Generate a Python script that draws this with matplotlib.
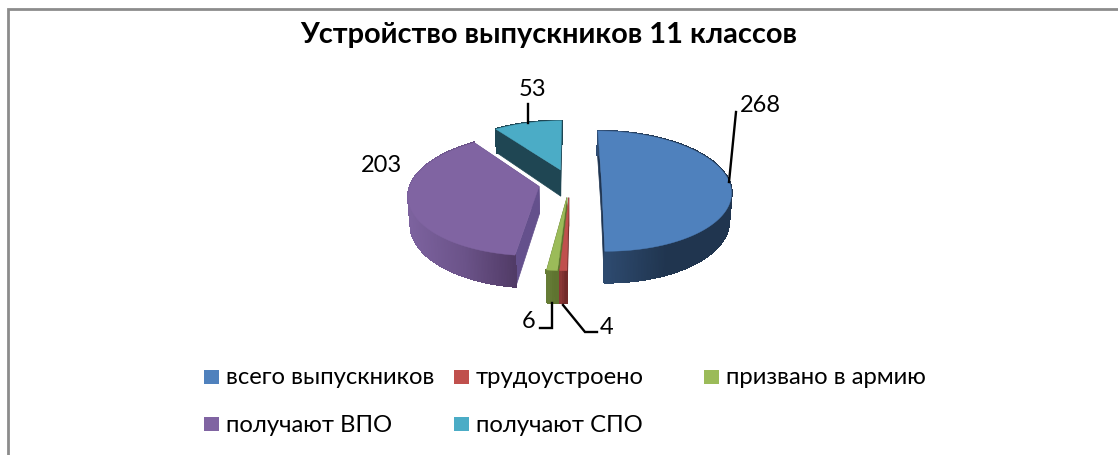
import numpy as np
import matplotlib
matplotlib.use("Agg")
from matplotlib import pyplot as plt
from matplotlib.colors import LinearSegmentedColormap
from matplotlib.patches import Rectangle

plt.rcParams['font.family'] = ['Lato', 'Open Sans', 'DejaVu Sans']

title = "Устройство выпускников 11 классов"
categories = ["всего выпускников", "трудоустроено", "призвано в армию", "получают ВПО", "получают СПО"]
values = [268, 4, 6, 203, 53]
top_colors = ["#4F81BD", "#C0504D", "#9BBB59", "#8064A2", "#4BACC6"]
face_colors = ["#1F3552", "#722B2A", "#5F7430", "#64508C", "#1F4653"]
wall_stops = [["#2F4C72", "#20354F", "#20354F"],
              ["#8A3735", "#722B2A", "#722B2A"],
              ["#667C36", "#5F7430", "#5F7430"],
              ["#7C629E", "#6B5389", "#503A65"],
              ["#1F4653", "#1F4653", "#1F4653"]]

# pie geometry, in picture pixels
cx, cy = 570, 183
rx, ry = 128, 59
persp = 0.134
explode_u, explode_v = 0.2475, 0.24
depth = 27
floor_scale = 0.985

def project(u, v):
    s = 1 / (1 - persp * v)
    return cx + rx * u * s, cy + ry * v * s, depth * s

def floor_x(x):
    return cx + (x - cx) * floor_scale

fig = plt.figure(figsize=(11.18, 4.55), dpi=100)
ax = fig.add_axes([0, 0, 1, 1])
ax.set_xlim(0, 1118)
ax.set_ylim(455, 0)
ax.axis('off')

# chart border
ax.plot([7.5, 7.5, 1118], [455, 8.5, 8.5], color="#8C8C8C", lw=2, solid_joinstyle='miter', solid_capstyle='butt')

total = sum(values)
edges = np.concatenate([[0], np.cumsum(values)]) / total * 2 * np.pi

def draw_slice(i):
    a0, a1 = edges[i], edges[i + 1]
    mid = (a0 + a1) / 2
    du, dv = explode_u * np.sin(mid), -explode_v * np.cos(mid)
    ang = np.linspace(a0, a1, max(int((a1 - a0) * 90), 6))
    x, y, d = project(du + np.sin(ang), dv - np.cos(ang))
    ax_, ay_, ad_ = project(du, dv)

    # cut faces
    for k in (0, -1):
        ax.fill([ax_, x[k], floor_x(x[k]), floor_x(ax_)], [ay_, y[k], y[k] + d[k], ay_ + ad_],
                color=face_colors[i], lw=0.5, zorder=2 + i * 0.1)

    # rim, shaded left to right
    cmap = LinearSegmentedColormap.from_list("wall", wall_stops[i])
    span = max(x.max() - x.min(), 1)
    for j in range(len(ang) - 1):
        c = cmap((min(x[j], x[j + 1]) - x.min()) / span)
        ax.fill([x[j], x[j + 1], floor_x(x[j + 1]), floor_x(x[j])],
                [y[j], y[j + 1], y[j + 1] + d[j + 1], y[j] + d[j]],
                color=c, lw=1, antialiased=False, zorder=3 + i * 0.1)

    # top surface
    ax.fill(np.r_[ax_, x], np.r_[ay_, y], color=top_colors[i], lw=0.3, zorder=5 + i * 0.1)

for i in [4, 3, 0, 2, 1]:
    draw_slice(i)

# leader lines
leaders = [([729, 736], [182, 112]),
           ([528, 528], [123, 104]),
           ([552, 552, 540], [303, 328, 328]),
           ([563, 585, 597], [305, 332, 332])]
for lx, ly in leaders:
    ax.plot(lx, ly, color="black", lw=1.7, solid_joinstyle='miter', zorder=8)

# value labels
label_pos = [(760, 106), (607, 327), (529, 321), (381, 166), (532, 90)]
for v, (lx, ly) in zip(values, label_pos):
    ax.text(lx, ly, str(v), ha='center', va='center', fontsize=17, color="black", zorder=9)

ax.text(549, 35, title, ha='center', va='center', fontsize=20.9, fontweight='bold', color="black")

# legend
legend_pos = [(204, 377), (454, 377), (704, 377), (204, 424), (454, 424)]
for name, col, (lx, ly) in zip(categories, top_colors, legend_pos):
    ax.add_patch(Rectangle((lx, ly - 7), 15, 14, facecolor=col, edgecolor='none'))
    ax.text(lx + 22, ly + 1, name, ha='left', va='center', fontsize=17.2, color="black")

fig.savefig("out.png", dpi=100)
